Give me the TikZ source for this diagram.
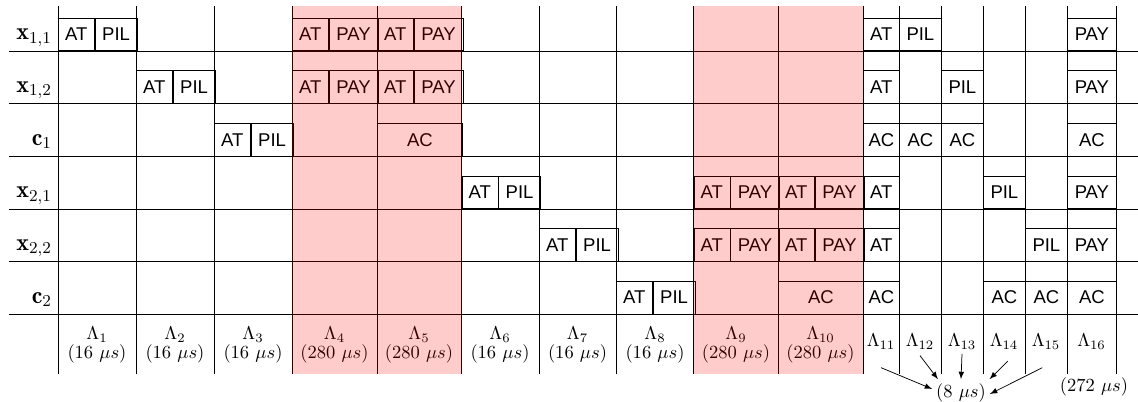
\documentclass[tikz,border=0pt]{standalone}
\usepackage{fontspec}
\newfontfamily\boxfont{Liberation Sans}
\usetikzlibrary{positioning,arrows}

\tikzset{
  slot/.style={draw, font=\boxfont, inner sep=0pt, minimum height=17.6pt, anchor=south west},
  atbox/.style={slot, minimum width=19.45pt},
  pilbox/.style={slot, minimum width=22.7pt},
  paybox/.style={slot, minimum width=26.5pt},
  acbox/.style={slot, minimum width=45.95pt},
  rowlab/.style={anchor=base east, font=\fontsize{13}{15}\selectfont, inner sep=2pt},
  lam/.style={align=center, inner sep=2pt},
}

\begin{document}
\begin{tikzpicture}[x=0.5404pt,y=-0.5404pt]
\useasboundingbox (0,0) rectangle (1138,402);

% grid
\foreach \x [count=\i] in {58,136,214,292,377,461.5,539,616,693.5,778,863,899,941,983,1025,1067,1116}
  \coordinate (k\i) at (\x,6);
\foreach \y [count=\i] in {51,103.65,156.3,208.95,261.6,314.25}
  \coordinate (r\i) at (9,\y);
\foreach \i in {1,...,17}
  \draw (k\i) -- ++(0,368);
\foreach \i in {1,...,6}
  \draw (r\i) -- ++(1129,0);

% users / coordinators
\foreach \n/\t [count=\i] in {x11/{\mathbf{x}_{1,1}},x12/{\mathbf{x}_{1,2}},c1/{\mathbf{c}_1},x21/{\mathbf{x}_{2,1}},x22/{\mathbf{x}_{2,2}},c2/{\mathbf{c}_2}}
  \node[rowlab] (\n) at ([shift={(47,-11)}]r\i) {$\t$};

% pilot slots
\foreach \c/\r in {1/1,2/2,3/3,6/4,7/5,8/6} {
  \node[atbox] (at\c) at (k\c|-r\r) {AT};
  \node[pilbox, right=0pt of at\c] (pil\c) {PIL};
}
% payload slots
\foreach \c/\r in {4/1,4/2,5/1,5/2,9/4,9/5,10/4,10/5} {
  \node[atbox] (at\c-\r) at (k\c|-r\r) {AT};
  \node[paybox, right=0pt of at\c-\r] (pay\c-\r) {PAY};
}
\node[acbox] (ac5) at (k5|-r3) {AC};
\node[acbox] (ac10) at (k10|-r6) {AC};

% short slots
\foreach \r/\t in {1/AT,2/AT,3/AC,4/AT,5/AT,6/AC}
  \node[atbox] (e11-\r) at (k11|-r\r) {\t};
\foreach \c/\r/\t in {12/1/PIL,12/3/AC,13/2/PIL,13/3/AC,14/4/PIL,14/6/AC,15/5/PIL,15/6/AC}
  \node[pilbox] (e\c-\r) at (k\c|-r\r) {\t};
\foreach \r/\t in {1/PAY,2/PAY,3/AC,4/PAY,5/PAY,6/AC}
  \node[paybox] (e16-\r) at (k16|-r\r) {\t};

% durations
\foreach \x/\i/\t in {97/1/16,175/2/16,253/3/16,334.5/4/280,419/5/280,500/6/16,577.5/7/16,655/8/16,736/9/280,820.5/10/280}
  \node[lam] (l\i) at (\x,345) {$\Lambda_{\i}$\\[-2pt]$(\t\ \mu s)$};
\foreach \x/\i in {881/11,920/12,962/13,1004/14,1046/15,1091.5/16}
  \node[lam] (l\i) at (\x,342) {$\Lambda_{\i}$};

\node[inner sep=2pt] (d8) at (961,392.5) {$(8\ \mu s)$};
\node (d272) at (1094,386.5) {$(272\ \mu s)$};

\draw[-latex] ([yshift=-7.5pt]l11.south) -- (d8.173);
\draw[-latex] ([yshift=-1pt]l12.south) -- (d8.150);
\draw[-latex] (l13.south) -- (d8.north);
\draw[-latex] ([shift={(2pt,-4pt)}]l14.south) -- (d8.25);
\draw[-latex] ([shift={(-2pt,-7.5pt)}]l15.south) -- (d8.-3);

% data phases
\fill[red, fill opacity=0.2] (k4) rectangle ++(169.5,368);
\fill[red, fill opacity=0.2] (k9) rectangle ++(169.5,368);
\end{tikzpicture}
\end{document}
